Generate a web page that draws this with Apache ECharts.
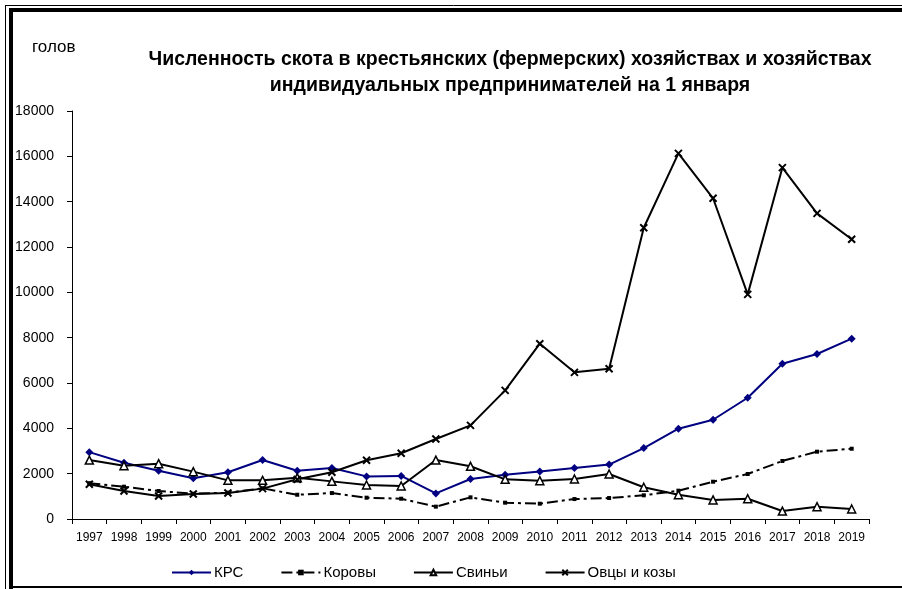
<!DOCTYPE html>
<html><head><meta charset="utf-8">
<script src="https://cdn.jsdelivr.net/npm/echarts@6/dist/echarts.min.js"></script>
<style>html,body{margin:0;padding:0;background:#fff}#c{width:902px;height:589px}</style>
</head><body><div id="c"></div>
<script>
var years = ['1997','1998','1999','2000','2001','2002','2003','2004','2005','2006','2007','2008','2009','2010','2011','2012','2013','2014','2015','2016','2017','2018','2019'];
var krs    = [2950,2480,2130,1800,2060,2600,2130,2250,1880,1900,1130,1765,1955,2100,2250,2400,3130,3985,4380,5350,6850,7280,7955];
var korovy = [1580,1425,1235,1115,1160,1355,1070,1145,940,895,545,955,720,675,880,925,1045,1250,1645,1985,2560,2970,3100];
var sviny  = [2600,2350,2440,2090,1705,1705,1825,1660,1500,1455,2600,2325,1750,1690,1765,1985,1400,1070,840,895,350,545,440];
var ovcy   = [1530,1235,1015,1100,1145,1340,1750,2060,2590,2900,3530,4130,5675,7735,6470,6630,12850,16130,14150,9910,15500,13485,12340];
var seriesNames = ['КРС','Коровы','Свиньи','Овцы и козы'];
var yMax = 18000, yStep = 2000;

var chart = echarts.init(document.getElementById('c'), null, {renderer:'canvas'});
var F = 'Liberation Sans, Arial, sans-serif';
chart.setOption({
  animation:false,
  backgroundColor:'#fff',
  title:{
    text:'Численность скота в крестьянских (фермерских) хозяйствах и хозяйствах\nиндивидуальных предпринимателей на 1 января',
    left:510, top:47, padding:0, textAlign:'center',
    textStyle:{fontFamily:F, fontSize:19.5, fontWeight:'bold', color:'#000', lineHeight:26}
  },
  legend:{
    data:seriesNames, left:171, top:565, padding:0, itemWidth:39, itemHeight:7, itemGap:37,
    textStyle:{fontFamily:F, fontSize:15, color:'#000', padding:[0,0,0,-2]}
  },
  grid:{left:72, right:33, top:111, bottom:70, containLabel:false},
  xAxis:{
    type:'category', data:years, boundaryGap:true,
    axisLine:{lineStyle:{color:'#000', width:1}},
    axisTick:{show:true, alignWithLabel:false, length:5, lineStyle:{color:'#000'}},
    axisLabel:{fontFamily:F, fontSize:12, color:'#000', margin:13, interval:0}
  },
  yAxis:{
    type:'value', min:0, max:yMax, interval:yStep,
    splitLine:{show:false},
    axisLine:{show:true, lineStyle:{color:'#000', width:1}},
    axisTick:{show:true, length:5, lineStyle:{color:'#000'}},
    axisLabel:{fontFamily:F, fontSize:14, color:'#000', margin:18, formatter:function(v){return String(v);}}
  },
  series:[
    {name:seriesNames[0], type:'line', data:krs, symbol:'diamond', symbolSize:8,
     lineStyle:{color:'#000080', width:2}, itemStyle:{color:'#000080'}},
    {name:seriesNames[1], type:'line', data:korovy, symbol:'rect', symbolSize:4,
     lineStyle:{color:'#000', width:2, type:[11,4,3,4]}, itemStyle:{color:'#000'}},
    {name:seriesNames[2], type:'line', data:sviny, symbol:'triangle', symbolSize:8,
     lineStyle:{color:'#000', width:2}, itemStyle:{color:'#fff', borderColor:'#000', borderWidth:1.5}},
    {name:seriesNames[3], type:'line', data:ovcy, symbol:'path://M0,0L10,10M10,0L0,10', symbolSize:7,
     lineStyle:{color:'#000', width:2}, itemStyle:{color:'#000', borderColor:'#000', borderWidth:2}}
  ],
  graphic:[
    {type:'text', left:32, top:39, style:{text:'голов', font:'17px '+F, fill:'#000'}},
    {type:'line', shape:{x1:5,y1:5.5,x2:902,y2:5.5}, style:{stroke:'#000', lineWidth:1}},
    {type:'line', shape:{x1:5.5,y1:5,x2:5.5,y2:589}, style:{stroke:'#000', lineWidth:1}},
    {type:'rect', shape:{x:9,y:8,width:893,height:4}, style:{fill:'#000'}},
    {type:'rect', shape:{x:9,y:8,width:4,height:581}, style:{fill:'#000'}},
    {type:'rect', shape:{x:13,y:586,width:889,height:2}, style:{fill:'#000'}}
  ]
});
</script></body></html>
